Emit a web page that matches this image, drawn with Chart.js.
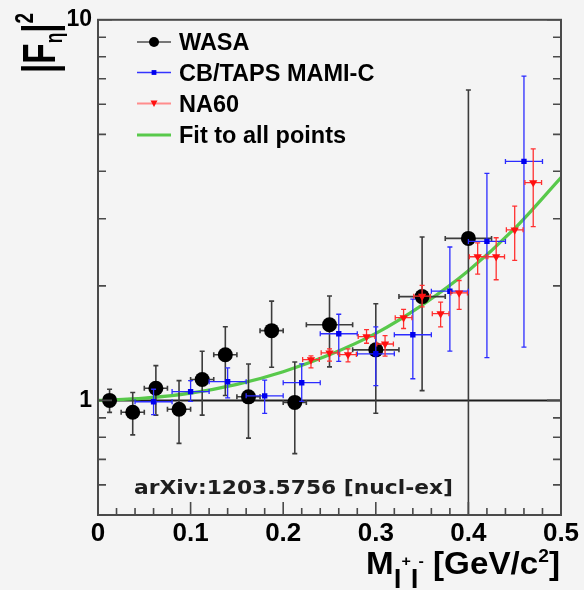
<!DOCTYPE html>
<html>
<head>
<meta charset="utf-8">
<script src="https://cdn.jsdelivr.net/npm/chart.js"></script>
<style>
  html, body { margin: 0; padding: 0; background: #f4f4f4; overflow: hidden; }
  canvas { display: block; }
</style>
</head>
<body>
<canvas id="ffChart" width="584" height="590"></canvas>
<script>
// WASA
const wasaX    = [0.0125, 0.0375, 0.0625, 0.0875, 0.1125, 0.1375, 0.1625, 0.1875, 0.2125, 0.25, 0.30, 0.35, 0.40];
const wasaXErr = [0, 0.0125, 0.0125, 0.0125, 0.0125, 0.0125, 0.0125, 0.0125, 0.0125, 0.025, 0.025, 0.025, 0.025];
const wasaY    = [1.00, 0.931, 1.076, 0.948, 1.135, 1.318, 1.022, 1.525, 0.988, 1.58, 1.358, 1.874, 2.665];
const wasaLo   = [0.93, 0.812, 0.915, 0.771, 0.915, 1.03, 0.796, 1.222, 0.725, 1.225, 0.925, 1.061, 0.3];
const wasaHi   = [1.07, 1.049, 1.234, 1.127, 1.347, 1.561, 1.247, 1.823, 1.262, 1.881, 1.794, 2.687, 6.54];

// CB/TAPS MAMI-C
const cbX    = [0.06, 0.10, 0.14, 0.18, 0.22, 0.26, 0.30, 0.34, 0.38, 0.42, 0.46];
const cbXErr = [0.02, 0.02, 0.02, 0.02, 0.02, 0.02, 0.02, 0.02, 0.02, 0.02, 0.02];
const cbY    = [0.992, 1.055, 1.12, 1.028, 1.113, 1.497, 1.326, 1.488, 1.936, 2.617, 4.245];
const cbLo   = [0.918, 0.994, 1.016, 0.925, 0.994, 1.267, 1.094, 1.14, 1.347, 1.295, 1.38];
const cbHi   = [1.07, 1.127, 1.217, 1.131, 1.247, 1.684, 1.561, 1.845, 2.53, 3.95, 7.11];

// NA60
const na60X    = [0.23, 0.25, 0.27, 0.29, 0.31, 0.33, 0.35, 0.37, 0.39, 0.41, 0.43, 0.45, 0.47];
const na60XErr = [0.009, 0.009, 0.009, 0.009, 0.009, 0.009, 0.009, 0.009, 0.009, 0.009, 0.009, 0.009, 0.009];
const na60Y    = [1.28, 1.334, 1.32, 1.471, 1.407, 1.65, 1.879, 1.69, 1.916, 2.385, 2.385, 2.806, 3.736];
const na60Lo   = [1.217, 1.269, 1.262, 1.413, 1.308, 1.545, 1.76, 1.561, 1.734, 2.148, 2.075, 2.333, 2.86];
const na60Hi   = [1.31, 1.366, 1.366, 1.534, 1.48, 1.734, 2.006, 1.812, 2.066, 2.595, 2.675, 3.24, 4.58];

// fit curve
const fitX = [0, 0.05, 0.10, 0.15, 0.20, 0.25, 0.30, 0.35, 0.40, 0.45, 0.50];
const fitY = [1.0, 1.014, 1.045, 1.102, 1.19, 1.318, 1.50, 1.78, 2.19, 2.83, 3.85];

// tick labels
const xTickLabels = ['0', '0.1', '0.2', '0.3', '0.4', '0.5'];
const yTickValues = [1, 10];

const pts = (xs, ys) => xs.map((x, i) => ({ x: x, y: ys[i] }));

const errors = [
  { xs: wasaX, xe: wasaXErr, ys: wasaY, lo: wasaLo, hi: wasaHi, color: '#3c3c3c', width: 1.6 },
  { xs: cbX, xe: cbXErr, ys: cbY, lo: cbLo, hi: cbHi, color: '#2b2bff', width: 1.3 },
  { xs: na60X, xe: na60XErr, ys: na60Y, lo: na60Lo, hi: na60Hi, color: '#ff3030', width: 1.3 }
];

function drawErrors(chart, e) {
  const ctx = chart.ctx, xs = chart.scales.x, ys = chart.scales.y, a = chart.chartArea;
  ctx.save();
  ctx.beginPath();
  ctx.rect(a.left, a.top, a.right - a.left, a.bottom - a.top);
  ctx.clip();
  ctx.strokeStyle = e.color;
  ctx.lineWidth = e.width;
  const cap = 2.5;
  e.xs.forEach((x, i) => {
    const px = xs.getPixelForValue(x);
    const py = ys.getPixelForValue(e.ys[i]);
    const pLo = ys.getPixelForValue(e.lo[i]);
    const pHi = ys.getPixelForValue(e.hi[i]);
    ctx.beginPath();
    ctx.moveTo(px, pLo); ctx.lineTo(px, pHi);
    ctx.moveTo(px - cap, pLo); ctx.lineTo(px + cap, pLo);
    ctx.moveTo(px - cap, pHi); ctx.lineTo(px + cap, pHi);
    if (e.xe[i] > 0) {
      const pl = xs.getPixelForValue(x - e.xe[i]);
      const pr = xs.getPixelForValue(x + e.xe[i]);
      ctx.moveTo(pl, py); ctx.lineTo(pr, py);
      ctx.moveTo(pl, py - cap); ctx.lineTo(pl, py + cap);
      ctx.moveTo(pr, py - cap); ctx.lineTo(pr, py + cap);
    }
    ctx.stroke();
  });
  ctx.restore();
}

function drawRuns(ctx, runs, x0, y0, targetW) {
  let total = 0;
  runs.forEach(r => { ctx.font = r.font; r.w = ctx.measureText(r.text).width; total += r.w; });
  const sx = targetW ? targetW / total : 1;
  ctx.save();
  ctx.translate(x0, y0);
  ctx.scale(sx, 1);
  let x = 0;
  runs.forEach(r => { ctx.font = r.font; ctx.fillText(r.text, x, r.dy || 0); x += r.w; });
  ctx.restore();
}

const rootPlugin = {
  id: 'rootStyle',
  beforeDraw(chart) {
    const ctx = chart.ctx;
    ctx.save();
    ctx.fillStyle = '#f4f4f4';
    ctx.fillRect(0, 0, chart.width, chart.height);
    ctx.restore();
  },
  beforeDatasetsDraw(chart) {
    // line at |F|^2 = 1
    const ctx = chart.ctx, a = chart.chartArea;
    const y1 = chart.scales.y.getPixelForValue(1);
    ctx.save();
    ctx.strokeStyle = '#1e1e1e';
    ctx.lineWidth = 2;
    ctx.beginPath();
    ctx.moveTo(a.left, y1); ctx.lineTo(a.right, y1);
    ctx.stroke();
    ctx.restore();
  },
  beforeDatasetDraw(chart, args) {
    const e = chart.data.datasets[args.index].errIndex;
    if (e !== undefined) drawErrors(chart, errors[e]);
  },
  afterDraw(chart) {
    const ctx = chart.ctx, a = chart.chartArea, xs = chart.scales.x, ys = chart.scales.y;
    ctx.save();
    // frame
    ctx.strokeStyle = '#4a4a4a';
    ctx.lineWidth = 2;
    ctx.strokeRect(a.left, a.top, a.right - a.left, a.bottom - a.top);
    ctx.lineWidth = 1.6;
    ctx.beginPath();
    for (let i = 0; i <= 25; i++) {
      const px = xs.getPixelForValue(i * 0.02);
      const len = i % 5 === 0 ? 13 : 7;
      ctx.moveTo(px, a.bottom); ctx.lineTo(px, a.bottom - len);
    }
    const yt = [0.5, 0.6, 0.7, 0.8, 0.9, 1, 2, 3, 4, 5, 6, 7, 8, 9, 10];
    yt.forEach(v => {
      const py = ys.getPixelForValue(v);
      const len = (v === 1 || v === 10) ? 14 : 8;
      ctx.moveTo(a.left, py); ctx.lineTo(a.left + len, py);
      ctx.moveTo(a.right, py); ctx.lineTo(a.right - len, py);
    });
    ctx.stroke();

    // legend
    const rowsY = [42, 72.5, 103.5, 135];
    const ds = chart.data.datasets;
    const legendOrder = [1, 2, 3, 0];
    ctx.textBaseline = 'alphabetic';
    legendOrder.forEach((di, k) => {
      const d = ds[di];
      const y = rowsY[k];
      ctx.strokeStyle = d.legendLine;
      ctx.lineWidth = d.legendWidth;
      ctx.beginPath(); ctx.moveTo(137, y); ctx.lineTo(171, y); ctx.stroke();
      ctx.fillStyle = d.backgroundColor;
      if (d.pointStyle === 'circle') {
        ctx.beginPath(); ctx.arc(154, y, 5, 0, Math.PI * 2); ctx.fill();
      } else if (d.pointStyle === 'rect') {
        ctx.fillRect(151.6, y - 2.4, 4.8, 4.8);
      } else if (d.pointStyle === 'triangle') {
        ctx.beginPath(); ctx.moveTo(150.5, y - 3); ctx.lineTo(157.5, y - 3); ctx.lineTo(154, y + 3.5); ctx.closePath(); ctx.fill();
      }
      ctx.fillStyle = '#000';
      ctx.font = 'bold 23.5px "Liberation Sans", Arial, sans-serif';
      ctx.fillText(d.label, 179, y + 8.3);
    });

    // axis titles
    ctx.fillStyle = '#000';
    const F = '"Liberation Sans", Arial, sans-serif';
    drawRuns(ctx, [
      { text: 'M', font: 'bold 31px ' + F },
      { text: 'l', font: 'bold 26px ' + F, dy: 14 },
      { text: '+', font: 'bold 15px ' + F, dy: -8 },
      { text: 'l', font: 'bold 26px ' + F, dy: 14 },
      { text: '-', font: 'bold 15px ' + F, dy: -8 },
      { text: ' [GeV/c', font: 'bold 31px ' + F },
      { text: '2', font: 'bold 18px ' + F, dy: -12 },
      { text: ']', font: 'bold 31px ' + F }
    ], 366, 574, 194);

    ctx.save();
    ctx.translate(55, 73);
    ctx.rotate(-Math.PI / 2);
    drawRuns(ctx, [
      { text: '|', font: 'bold 46px ' + F },
      { text: 'F', font: 'bold 46px ' + F },
      { text: 'η', font: 'bold 24px ' + F, dy: 7 },
      { text: '|', font: 'bold 46px ' + F },
      { text: '2', font: 'bold 26px ' + F, dy: -22 }
    ], 0, 0, 60);
    ctx.restore();

    ctx.fillStyle = '#1e1e1e';
    drawRuns(ctx, [{ text: 'arXiv:1203.5756 [nucl-ex]', font: 'bold 19.5px "DejaVu Sans", sans-serif' }], 134, 494, 319);
    ctx.restore();
  }
};

new Chart(document.getElementById('ffChart'), {
  type: 'scatter',
  data: {
    datasets: [
      {
        type: 'line', label: 'Fit to all points', data: pts(fitX, fitY),
        borderColor: '#58c94b', backgroundColor: '#58c94b', borderWidth: 3.2,
        pointRadius: 0, cubicInterpolationMode: 'monotone', fill: false, order: 4,
        legendLine: '#58c94b', legendWidth: 3
      },
      {
        label: 'WASA', data: pts(wasaX, wasaY), errIndex: 0,
        pointStyle: 'circle', pointRadius: 7.5, backgroundColor: '#000', borderColor: '#000', borderWidth: 0, order: 3,
        legendLine: '#777', legendWidth: 2
      },
      {
        label: 'CB/TAPS MAMI-C', data: pts(cbX, cbY), errIndex: 1,
        pointStyle: 'rect', pointRadius: 3.8, backgroundColor: '#0000ee', borderColor: '#0000ee', borderWidth: 0, order: 2,
        legendLine: '#3333ff', legendWidth: 1.5
      },
      {
        label: 'NA60', data: pts(na60X, na60Y), errIndex: 2,
        pointStyle: 'triangle', rotation: 180, pointRadius: 4.8, backgroundColor: '#ff1010', borderColor: '#ff1010', borderWidth: 0, order: 1,
        legendLine: '#ff8c8c', legendWidth: 2
      }
    ]
  },
  options: {
    responsive: false,
    animation: false,
    devicePixelRatio: 1,
    layout: { padding: { top: 13, right: 23, left: 0, bottom: 0 } },
    plugins: { legend: { display: false }, tooltip: { enabled: false } },
    scales: {
      x: {
        type: 'linear', min: 0, max: 0.5,
        grid: { display: false, drawTicks: false },
        border: { display: false },
        ticks: {
          stepSize: 0.1, padding: 3, color: '#000', maxRotation: 0,
          font: { family: '"Liberation Sans", Arial, sans-serif', size: 26, weight: 'bold' },
          callback: (v) => xTickLabels[Math.round(v * 10)]
        },
        afterFit: (s) => { s.height = 75; }
      },
      y: {
        type: 'logarithmic', min: 0.5, max: 10,
        grid: { display: false, drawTicks: false },
        border: { display: false },
        afterBuildTicks: (s) => { s.ticks = yTickValues.map(v => ({ value: v })); },
        ticks: {
          padding: 6, color: '#000',
          font: { family: '"Liberation Sans", Arial, sans-serif', size: 23, weight: 'bold' },
          callback: (v) => String(v)
        },
        afterFit: (s) => { s.width = 98; }
      }
    }
  },
  plugins: [rootPlugin]
});
</script>
</body>
</html>
